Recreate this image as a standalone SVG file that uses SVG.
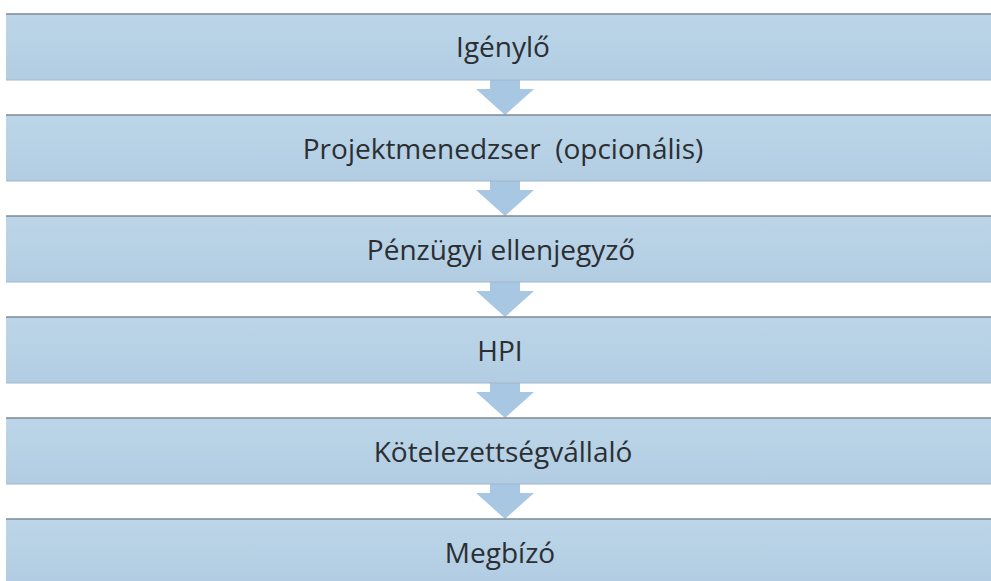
<svg xmlns="http://www.w3.org/2000/svg" width="991" height="581" viewBox="0 0 991 581">
<defs>
<linearGradient id="g" x1="0" y1="0" x2="0" y2="1">
<stop offset="0" stop-color="#bcd5e8"/>
<stop offset="1" stop-color="#b2cde3"/>
</linearGradient>
</defs>
<style>
.box{fill:url(#g);stroke:none}
.top{stroke:#7d8a96;stroke-width:1.5}
.bot{stroke:#9fb6c8;stroke-width:1}
.arr{fill:#a8c7e2}
text{font-family:"Open Sans","Liberation Sans",sans-serif;font-size:28px;fill:#2b2f33;text-anchor:middle}
</style>
<rect width="991" height="581" fill="#ffffff"/>
<g id="connectors">
<path class="arr" d="M490,80 H520 V89 H534 L505,115 L476,89 H490 Z"/>
<path class="arr" d="M490,181 H520 V190 H534 L505,216 L476,190 H490 Z"/>
<path class="arr" d="M490,282 H520 V291 H534 L505,317 L476,291 H490 Z"/>
<path class="arr" d="M490,383 H520 V392 H534 L505,418 L476,392 H490 Z"/>
<path class="arr" d="M490,484 H520 V493 H534 L505,519 L476,493 H490 Z"/>
</g>
<g id="n1"><rect class="box" x="6" y="14" width="985" height="66"/><line class="top" x1="6" y1="14" x2="991" y2="14"/><line class="bot" x1="6" y1="80" x2="991" y2="80"/><text x="503" y="57">Igénylő</text></g>
<g id="n2"><rect class="box" x="6" y="115" width="985" height="66"/><line class="top" x1="6" y1="115" x2="991" y2="115"/><line class="bot" x1="6" y1="181" x2="991" y2="181"/><text x="503" y="159" xml:space="preserve">Projektmenedzser  (opcionális)</text></g>
<g id="n3"><rect class="box" x="6" y="216" width="985" height="66"/><line class="top" x1="6" y1="216" x2="991" y2="216"/><line class="bot" x1="6" y1="282" x2="991" y2="282"/><text x="501" y="260">Pénzügyi ellenjegyző</text></g>
<g id="n4"><rect class="box" x="6" y="317" width="985" height="66"/><line class="top" x1="6" y1="317" x2="991" y2="317"/><line class="bot" x1="6" y1="383" x2="991" y2="383"/><text x="500" y="361">HPI</text></g>
<g id="n5"><rect class="box" x="6" y="418" width="985" height="66"/><line class="top" x1="6" y1="418" x2="991" y2="418"/><line class="bot" x1="6" y1="484" x2="991" y2="484"/><text x="503" y="462">Kötelezettségvállaló</text></g>
<g id="n6"><rect class="box" x="6" y="519" width="985" height="62"/><line class="top" x1="6" y1="519" x2="991" y2="519"/><text x="500" y="563">Megbízó</text></g>
</svg>
